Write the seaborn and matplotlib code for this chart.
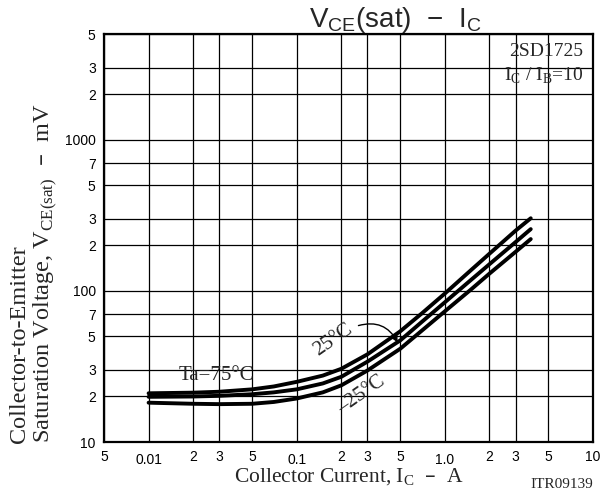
import matplotlib
matplotlib.use("Agg")
import matplotlib.pyplot as plt
import seaborn as sns
import pandas as pd
from matplotlib.ticker import FixedLocator, FixedFormatter

# ---- data ----
current = [0.01, 0.02, 0.03, 0.05, 0.07, 0.1, 0.15, 0.2, 0.3, 0.5, 0.7, 1.0, 1.5, 2.0, 3.0, 3.8]
v_75 = [21.0, 21.2, 21.5, 22.3, 23.3, 25.0, 27.5, 30.5, 38.0, 54, 71, 96, 137, 176, 250, 302]
v_25 = [19.9, 20.0, 20.2, 20.7, 21.3, 22.3, 24.4, 27.0, 34.0, 47, 62.4, 84, 118, 150, 210, 256]
v_m25 = [18.2, 17.9, 17.8, 17.9, 18.4, 19.4, 21.3, 23.7, 29.7, 41.4, 54.6, 73.2, 102, 130, 181, 220]
series_names = ["75", "25", "-25"]

x_major = [0.01, 0.1, 1.0]
x_major_labels = ["0.01", "0.1", "1.0"]
x_minor = [0.005, 0.02, 0.03, 0.05, 0.2, 0.3, 0.5, 2, 3, 5, 10]
x_minor_labels = ["5", "2", "3", "5", "2", "3", "5", "2", "3", "5", "10"]
y_major = [10, 100, 1000]
y_major_labels = ["10", "100", "1000"]
y_minor = [20, 30, 50, 70, 200, 300, 500, 700, 2000, 3000, 5000]
y_minor_labels = ["2", "3", "5", "7", "2", "3", "5", "7", "2", "3", "5"]

df = pd.concat([
    pd.DataFrame({"I": current, "V": v, "Ta": name})
    for v, name in zip([v_75, v_25, v_m25], series_names)
])

sns.set_style("white")
plt.rcParams["font.family"] = ["Liberation Sans", "DejaVu Sans"]
SERIF = ["Liberation Serif", "DejaVu Serif"]

W, H = 613, 490
fig = plt.figure(figsize=(W / 100, H / 100), dpi=100)
ax = fig.add_axes([104 / W, 1 - 442 / H, 489 / W, 408 / H])

sns.lineplot(data=df, x="I", y="V", hue="Ta", palette=["black"] * 3,
             estimator=None, legend=False, linewidth=2.8, ax=ax)

ax.set_xscale("log")
ax.set_yscale("log")
ax.set_xlim(0.005, 10)
ax.set_ylim(10, 5000)

ax.xaxis.set_major_locator(FixedLocator(x_major))
ax.xaxis.set_major_formatter(FixedFormatter(x_major_labels))
ax.xaxis.set_minor_locator(FixedLocator(x_minor))
ax.xaxis.set_minor_formatter(FixedFormatter(x_minor_labels))
ax.yaxis.set_major_locator(FixedLocator(y_major))
ax.yaxis.set_major_formatter(FixedFormatter(y_major_labels))
ax.yaxis.set_minor_locator(FixedLocator(y_minor))
ax.yaxis.set_minor_formatter(FixedFormatter(y_minor_labels))

ax.tick_params(axis="both", which="both", length=0, labelsize=10, colors="black")
ax.tick_params(axis="x", which="minor", pad=6)
ax.tick_params(axis="x", which="major", pad=8)
ax.tick_params(axis="y", which="both", pad=6)

ax.grid(True, which="both", color="black", linewidth=0.9)
for s in ax.spines.values():
    s.set_visible(True)
    s.set_color("black")
    s.set_linewidth(1.6)

ax.set_xlabel("Collector Current, I$_\\mathregular{C}$  \u2013  A",
              fontfamily=SERIF, fontsize=15.5, labelpad=0)
ax.set_ylabel("")

fig.text(34 / W, 1 - 443 / H,
         "Collector-to-Emitter\nSaturation Voltage, V$_\\mathregular{CE(sat)}$  \u2013  mV",
         rotation=90, ha="center", va="bottom", multialignment="left",
         fontfamily=SERIF, fontsize=17.5, linespacing=1.1)

fig.text(395 / W, 1 - 27 / H,
         "V$_\\mathregular{CE}$(sat)  \u2212  I$_\\mathregular{C}$",
         ha="center", va="baseline", fontsize=20)

ax.text(0.98, 0.956, "2SD1725", transform=ax.transAxes, ha="right", va="center",
        fontfamily=SERIF, fontsize=14)
ax.text(0.98, 0.898, "I$_\\mathregular{C}$ / I$_\\mathregular{B}$=10", transform=ax.transAxes,
        ha="right", va="center", fontfamily=SERIF, fontsize=14)

ax.text(0.0285, 27.6, "Ta=75\u00b0C", ha="center", va="center", fontfamily=SERIF, fontsize=15)
ax.text(0.176, 47.0, "25\u00b0C", ha="center", va="center", rotation=35,
        fontfamily=SERIF, fontsize=15)
ax.text(0.275, 20.4, "\u201325\u00b0C", ha="center", va="center", rotation=35,
        fontfamily=SERIF, fontsize=15)
ax.annotate("", xy=(0.48, 45.5), xytext=(0.261, 58.9),
            arrowprops=dict(arrowstyle="-|>", color="black", lw=1.0,
                            connectionstyle="arc3,rad=-0.4", mutation_scale=9,
                            shrinkA=0, shrinkB=0))

fig.text(562 / W, 1 - 484 / H, "ITR09139", ha="center", va="center",
         fontfamily=SERIF, fontsize=11)

fig.savefig("out.png", dpi=100, facecolor="white")
